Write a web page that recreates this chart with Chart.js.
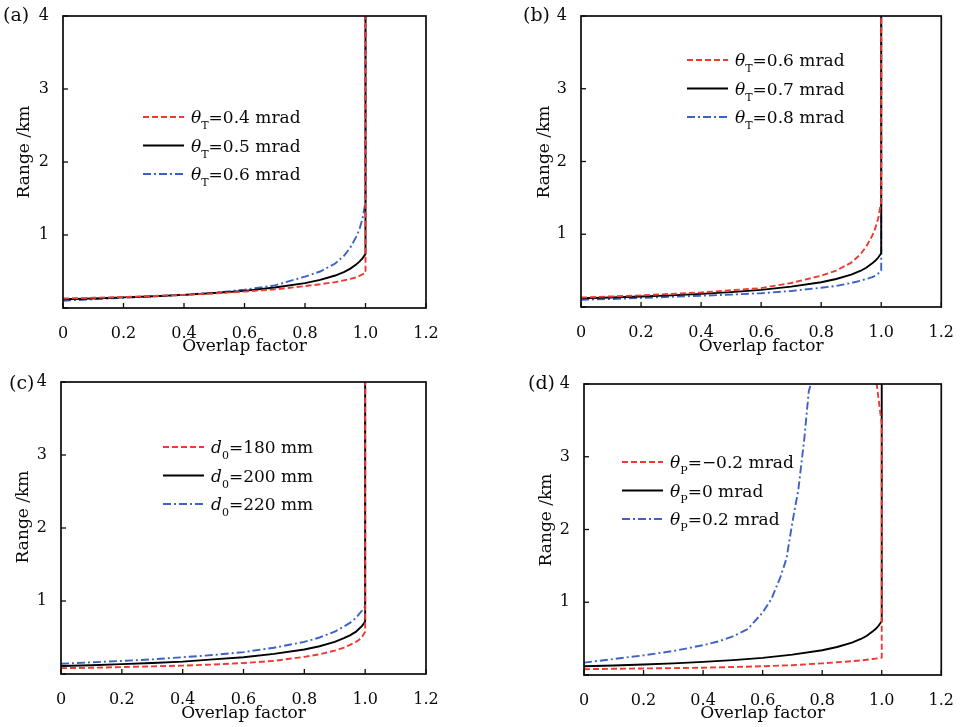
<!DOCTYPE html>
<html>
<head>
<meta charset="utf-8">
<script src="https://cdn.jsdelivr.net/npm/chart.js@4.4.0/dist/chart.umd.min.js"></script>
<style>
  body { margin: 0; background: #fff; }
  #wrap { position: relative; width: 962px; height: 727px; }
  canvas { position: absolute; }
</style>
</head>
<body>
<div id="wrap">
  <canvas id="ca" width="481" height="360" style="left:0;top:0"></canvas>
  <canvas id="cb" width="481" height="360" style="left:481px;top:0"></canvas>
  <canvas id="cc" width="481" height="367" style="left:0;top:360px"></canvas>
  <canvas id="cd" width="481" height="367" style="left:481px;top:360px"></canvas>
</div>
<script>
// tick labels
const xTickLabels = ['0', '0.2', '0.4', '0.6', '0.8', '1.0', '1.2'];
const yTickLabels = ['', '1', '2', '3', '4'];

// overlap factor samples (last point = top of the vertical part at 1.0)
const overlap = [0, 0.1, 0.2, 0.3, 0.4, 0.5, 0.6, 0.7, 0.8, 0.85, 0.9, 0.93, 0.95, 0.97, 0.98, 0.99, 1.0, 1.0];

// range /km
const rangeRef = [0.12, 0.13, 0.145, 0.16, 0.18, 0.205, 0.235, 0.28, 0.34, 0.385, 0.445, 0.495, 0.54, 0.60, 0.635, 0.68, 0.74, 4];
const rangeA1 = [0.13, 0.14, 0.15, 0.165, 0.18, 0.20, 0.225, 0.255, 0.30, 0.325, 0.355, 0.38, 0.40, 0.42, 0.44, 0.46, 0.48, 4];
const rangeA3 = [0.10, 0.12, 0.14, 0.16, 0.18, 0.21, 0.25, 0.31, 0.43, 0.50, 0.61, 0.72, 0.83, 0.98, 1.08, 1.22, 1.45, 4];
const rangeB1 = [0.13, 0.145, 0.16, 0.18, 0.20, 0.23, 0.26, 0.33, 0.43, 0.50, 0.61, 0.72, 0.83, 0.98, 1.08, 1.22, 1.45, 4];
const rangeB3 = [0.10, 0.11, 0.125, 0.14, 0.155, 0.17, 0.19, 0.22, 0.265, 0.29, 0.33, 0.36, 0.385, 0.41, 0.43, 0.46, 0.50, 4];
const rangeC1 = [0.08, 0.085, 0.095, 0.105, 0.115, 0.13, 0.15, 0.18, 0.235, 0.27, 0.32, 0.36, 0.40, 0.44, 0.47, 0.51, 0.58, 4];
const rangeC2 = [0.11, 0.12, 0.135, 0.15, 0.17, 0.20, 0.23, 0.275, 0.335, 0.38, 0.44, 0.49, 0.53, 0.58, 0.62, 0.66, 0.72, 4];
const rangeC3 = [0.14, 0.16, 0.18, 0.20, 0.23, 0.26, 0.30, 0.36, 0.44, 0.50, 0.58, 0.65, 0.70, 0.77, 0.82, 0.87, 0.93, 4];
const overlapD1 = [0, 0.1, 0.2, 0.3, 0.4, 0.5, 0.6, 0.7, 0.8, 0.85, 0.9, 0.93, 0.95, 0.97, 0.98, 0.99, 1.0, 1.0, 0.983];
const rangeD1 = [0.08, 0.085, 0.09, 0.095, 0.10, 0.11, 0.12, 0.135, 0.16, 0.175, 0.19, 0.20, 0.21, 0.22, 0.225, 0.23, 0.24, 3.45, 4];
const overlapD3 = [0, 0.1, 0.2, 0.3, 0.4, 0.45, 0.5, 0.55, 0.6, 0.63, 0.66, 0.68, 0.7, 0.72, 0.74, 0.755, 0.762];
const rangeD3 = [0.17, 0.22, 0.27, 0.33, 0.41, 0.46, 0.53, 0.63, 0.86, 1.05, 1.35, 1.6, 2.1, 2.55, 3.25, 3.9, 4];

// legend texts
const legendA = ['0.4 mrad', '0.5 mrad', '0.6 mrad'];
const legendB = ['0.6 mrad', '0.7 mrad', '0.8 mrad'];
const legendC = ['180 mm', '200 mm', '220 mm'];
const legendD = ['\u22120.2 mrad', '0 mrad', '0.2 mrad'];

const SERIF = '"DejaVu Serif", "Liberation Serif", serif';
const INK = '#0a0a0a';
const RED = '#ee3a33', BLUE = '#3b62c6';
const styles = [
  { color: RED, dash: [6, 3] },
  { color: '#000', dash: [] },
  { color: BLUE, dash: [8, 3, 2, 3] }
];

const pts = (xs, ys) => xs.map((x, i) => ({ x: x, y: ys[i] }));

const framePlugin = {
  id: 'frame',
  afterDatasetsDraw(chart, args, o) {
    const { ctx, chartArea: a, scales: { x, y } } = chart;
    ctx.save();
    ctx.strokeStyle = INK;
    ctx.lineWidth = 1.7;
    ctx.setLineDash([]);
    ctx.strokeRect(a.left, a.top, a.right - a.left, a.bottom - a.top);
    ctx.lineWidth = 1.3;
    x.ticks.forEach(t => {
      const px = x.getPixelForValue(t.value);
      ctx.beginPath(); ctx.moveTo(px, a.bottom); ctx.lineTo(px, a.bottom - 5); ctx.stroke();
    });
    y.ticks.forEach(t => {
      const py = y.getPixelForValue(t.value);
      ctx.beginPath(); ctx.moveTo(a.left, py); ctx.lineTo(a.left + 5, py); ctx.stroke();
    });
    ctx.fillStyle = INK;
    // y axis title
    ctx.save();
    ctx.translate(o.yTitleX, o.yTitleY);
    ctx.rotate(-Math.PI / 2);
    ctx.textAlign = 'center';
    ctx.textBaseline = 'middle';
    ctx.font = '17px ' + SERIF;
    ctx.fillText('Range /km', 0, 0);
    ctx.restore();
    // panel label
    ctx.textBaseline = 'alphabetic';
    ctx.font = '19px ' + SERIF;
    ctx.fillText(o.panel, o.panelX, o.panelY);
    // legend
    chart.data.datasets.forEach((ds, i) => {
      const ly = o.legY + i * o.legGap;
      ctx.strokeStyle = ds.borderColor;
      ctx.lineWidth = 2;
      ctx.setLineDash(ds.borderDash);
      ctx.beginPath(); ctx.moveTo(o.legX, ly); ctx.lineTo(o.legX + 41, ly); ctx.stroke();
      let tx = o.legX + 48;
      const base = ly + 6;
      ctx.font = 'italic 17px ' + SERIF;
      ctx.fillText(o.sym, tx, base); tx += ctx.measureText(o.sym).width;
      ctx.font = '11px ' + SERIF;
      ctx.fillText(o.sub, tx, base + 6); tx += ctx.measureText(o.sub).width;
      ctx.font = '17px ' + SERIF;
      ctx.fillText('=' + ds.label, tx, base);
    });
    ctx.restore();
  }
};

function makePanel(id, box, series, legend, frame) {
  const canvas = document.getElementById(id);
  const W = canvas.width, H = canvas.height;
  new Chart(canvas, {
    type: 'line',
    data: {
      datasets: series.map((s, i) => ({
        label: legend[i],
        data: s,
        borderColor: styles[i].color,
        borderDash: styles[i].dash,
        borderWidth: 1.9,
        pointRadius: 0,
        tension: 0,
        fill: false
      }))
    },
    options: {
      responsive: false,
      animation: false,
      layout: { padding: { left: 0, top: box.top, right: W - box.right, bottom: 0 } },
      plugins: { legend: { display: false }, tooltip: { enabled: false }, frame: frame },
      scales: {
        x: {
          type: 'linear', min: 0, max: 1.2,
          grid: { display: false }, border: { display: false },
          afterFit: s => { s.height = H - box.bottom; },
          afterBuildTicks: s => { s.ticks = xTickLabels.map((t, i) => ({ value: i * 0.2 })); },
          ticks: {
            color: INK, font: { family: SERIF, size: 16 }, padding: 8,
            maxRotation: 0, autoSkip: false,
            callback: (v, i) => xTickLabels[i]
          },
          title: { display: true, text: 'Overlap factor', color: INK, font: { family: SERIF, size: 17 }, padding: { top: 0, bottom: 3 } }
        },
        y: {
          type: 'linear', min: 0, max: 4,
          grid: { display: false }, border: { display: false },
          afterFit: s => { s.width = box.left; },
          afterBuildTicks: s => { s.ticks = yTickLabels.map((t, i) => ({ value: i })); },
          ticks: {
            color: INK, font: { family: SERIF, size: 16 }, padding: 6,
            callback: (v, i) => yTickLabels[i]
          },
          title: { display: false }
        }
      }
    },
    plugins: [framePlugin]
  });
}

makePanel('ca', { left: 63, top: 16, right: 426, bottom: 308 },
  [pts(overlap, rangeA1), pts(overlap, rangeRef), pts(overlap, rangeA3)], legendA,
  { panel: '(a)', panelX: 3, panelY: 21, yTitleX: 25, yTitleY: 152, legX: 143, legY: 117, legGap: 28.5, sym: '\u03b8', sub: 'T' });

makePanel('cb', { left: 100, top: 16, right: 461, bottom: 307 },
  [pts(overlap, rangeB1), pts(overlap, rangeRef), pts(overlap, rangeB3)], legendB,
  { panel: '(b)', panelX: 42, panelY: 21, yTitleX: 64, yTitleY: 152, legX: 206, legY: 60, legGap: 28.5, sym: '\u03b8', sub: 'T' });

makePanel('cc', { left: 61, top: 22, right: 426, bottom: 314 },
  [pts(overlap, rangeC1), pts(overlap, rangeC2), pts(overlap, rangeC3)], legendC,
  { panel: '(c)', panelX: 9, panelY: 29, yTitleX: 24, yTitleY: 157, legX: 163, legY: 87, legGap: 28.5, sym: 'd', sub: '0' });

makePanel('cd', { left: 103, top: 24, right: 463, bottom: 315 },
  [pts(overlapD1, rangeD1), pts(overlap, rangeRef), pts(overlapD3, rangeD3)], legendD,
  { panel: '(d)', panelX: 47, panelY: 29, yTitleX: 66, yTitleY: 160, legX: 141, legY: 102, legGap: 28.5, sym: '\u03b8', sub: 'P' });
</script>
</body>
</html>
